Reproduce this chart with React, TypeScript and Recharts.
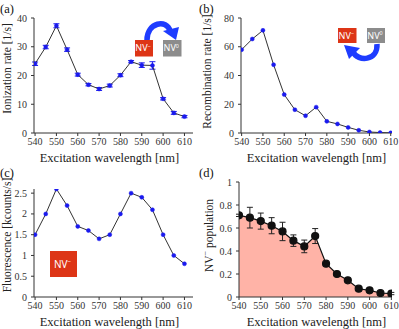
import React from 'react';
import { ComposedChart, Line, Area, XAxis, YAxis, ErrorBar } from 'recharts';

// excitation wavelengths shared by all four panels [nm]
const wavelengths = [540, 545, 550, 555, 560, 565, 570, 575, 580, 585, 590, 595, 600, 605, 610];

// (a) ionization rate [1/s]
const ionizationRate = [24.1, 29.9, 37.3, 29.0, 20.3, 16.8, 15.3, 16.5, 20.1, 24.8, 23.6, 23.5, 11.9, 7.0, 5.7];
const ionizationError = [0.6, 0.6, 0.7, 0.6, 0.5, 0.4, 0.5, 0.5, 0.5, 0.4, 0.8, 1.3, 0.4, 0.5, 0.4];

// (b) recombination rate [1/s]
const recombinationRate = [58, 65.4, 71.4, 47.5, 26.7, 16.2, 12, 18, 8.1, 6.3, 3.9, 1.9, 0.7, 0.3, 0.1];

// (c) fluorescence [kcounts/s]
const fluorescence = [1.5, 2.0, 2.6, 2.2, 1.7, 1.6, 1.4, 1.5, 2.0, 2.5, 2.4, 2.1, 1.5, 1.0, 0.8];

// (d) NV- population
const nvPopulation = [0.71, 0.69, 0.66, 0.62, 0.57, 0.49, 0.44, 0.53, 0.29, 0.2, 0.145, 0.072, 0.058, 0.035, 0.03];
const nvPopulationError = [0.01, 0.09, 0.07, 0.07, 0.08, 0.05, 0.055, 0.065, 0.01, 0.01, 0.01, 0.01, 0.01, 0.01, 0.01];

const xTicks = [540, 550, 560, 570, 580, 590, 600, 610];
const ionizationTicks = [0, 10, 20, 30, 40];
const recombinationTicks = [0, 20, 40, 60, 80];
const fluorescenceTicks = [0, 0.5, 1, 1.5, 2, 2.5];
const populationTicks = [0, 0.2, 0.4, 0.6, 0.8, 1];

const SERIF = 'Liberation Serif';
const SANS = 'Noto Sans';
const AXIS = '#333';
const BLUE = '#1a1aee';

const rows = wavelengths.map((w, i) => ({
  w,
  ion: ionizationRate[i],
  ionErr: ionizationError[i],
  rec: recombinationRate[i],
  fl: fluorescence[i],
  pop: nvPopulation[i],
  popErr: nvPopulationError[i],
}));

const yTitle = (text: React.ReactNode, x: number, dy: number) => (props: any) => {
  const vb = props.viewBox || {};
  const cy = (vb.y || 0) + (vb.height || 0) / 2 + dy;
  return (
    <text
      x={x}
      y={cy}
      transform={`rotate(-90, ${x}, ${cy})`}
      textAnchor="middle"
      dominantBaseline="central"
      style={{ fontFamily: SERIF, fontSize: 11.5 }}
      fill="#222"
    >
      {text}
    </text>
  );
};

const xTitle = (dx: number) => (props: any) => {
  const vb = props.viewBox || {};
  const cx = (vb.x || 0) + (vb.width || 0) / 2 + dx;
  return (
    <text x={cx} y={(vb.y || 0) + 29} textAnchor="middle" style={{ fontFamily: SERIF, fontSize: 12.5 }} fill="#222">
      Excitation wavelength [nm]
    </text>
  );
};

interface PanelProps {
  left: number;
  top: number;
  width: number;
  height: number;
  marginTop: number;
  yWidth: number;
  xDomain: [number, number];
  yDomain: [number, number];
  yTicks: number[];
  title: React.ReactNode;
  titleX: number;
  titleDy: number;
  xTitleDx: number;
  children: React.ReactNode;
}

function Panel(p: PanelProps) {
  const tick = { fontFamily: SERIF, fontSize: 10, fill: '#333' };
  return (
    <div style={{ position: 'absolute', left: p.left, top: p.top }}>
      <ComposedChart
        width={p.width}
        height={p.height}
        data={rows}
        margin={{ top: p.marginTop, right: 7, left: 0, bottom: 0 }}
        style={{ fontFamily: SERIF }}
      >
        <XAxis
          dataKey="w"
          type="number"
          domain={p.xDomain}
          ticks={xTicks}
          allowDataOverflow
          height={32}
          stroke={AXIS}
          tickSize={3}
          tickMargin={2}
          tick={tick}
          label={{ content: xTitle(p.xTitleDx) }}
        />
        <XAxis xAxisId="top" orientation="top" type="number" domain={p.xDomain} height={0} tick={false} tickLine={false} stroke={AXIS} />
        <YAxis
          type="number"
          domain={p.yDomain}
          ticks={p.yTicks}
          allowDataOverflow
          width={p.yWidth}
          stroke={AXIS}
          tickSize={3}
          tickMargin={4}
          tick={tick}
          label={{ content: yTitle(p.title, p.titleX, p.titleDy) }}
        />
        <YAxis yAxisId="right" orientation="right" type="number" domain={p.yDomain} width={0} tick={false} tickLine={false} stroke={AXIS} />
        {p.children}
      </ComposedChart>
    </div>
  );
}

const blueDot = { r: 2, fill: BLUE, stroke: BLUE, strokeWidth: 0.5 };

function Annotations() {
  const box = (x: number, y: number, w: number, h: number, fill: string, sup: string, fs: number) => (
    <g>
      <rect x={x} y={y} width={w} height={h} fill={fill} />
      <text x={x + w / 2 - 1} y={y + h / 2 + fs * 0.36} textAnchor="middle" style={{ fontFamily: SANS, fontSize: fs }} fill="#fff">
        NV
        <tspan dy={-fs * 0.4} fontSize={fs * 0.6}>{sup}</tspan>
      </text>
    </g>
  );
  const label = (x: number, y: number, t: string) => (
    <text x={x} y={y} style={{ fontFamily: SERIF, fontSize: 12.5 }} fill="#111">{t}</text>
  );
  return (
    <svg width={399} height={329} style={{ position: 'absolute', left: 0, top: 0, pointerEvents: 'none' }}>
      {label(0, 13, '(a)')}
      {label(199, 13, '(b)')}
      {label(0, 177, '(c)')}
      {label(199, 177, '(d)')}
      {/* (a) ionization NV- -> NV0 */}
      <path d="M147,40 C147,22 167,19 170,31" fill="none" stroke="#1e3cff" strokeWidth={5.5} />
      <polygon points="163,31 179,27 176,40" fill="#1e3cff" />
      {box(135, 40, 18, 16.5, '#dd3516', '−', 9)}
      {box(163, 40, 18.5, 16.5, '#8c8c8c', '0', 9)}
      {/* (b) recombination NV0 -> NV- */}
      <path d="M377,44 C378,61 358,62 353,52" fill="none" stroke="#1e3cff" strokeWidth={5.5} />
      <polygon points="344,45 360,48 349,59" fill="#1e3cff" />
      {box(338, 28, 18.5, 15, '#dd3516', '−', 9)}
      {box(367, 28, 18, 15, '#8c8c8c', '0', 9)}
      {/* (c) */}
      {box(50, 251, 27, 26, '#dd3516', '−', 10)}
    </svg>
  );
}

export default function App() {
  return (
    <div style={{ position: 'absolute', left: 0, top: 0, width: 399, height: 329, background: '#fff', fontFamily: SERIF }}>
      <Panel
        left={0} top={0} width={200} height={165} marginTop={18} yWidth={34}
        xDomain={[539.5, 614]} yDomain={[0, 40]} yTicks={ionizationTicks}
        title="Ionization rate [1/s]" titleX={7} titleDy={-7} xTitleDx={-4}
      >
        <Line dataKey="ion" type="linear" stroke="#333" strokeWidth={1} dot={blueDot} isAnimationActive={false}>
          <ErrorBar dataKey="ionErr" width={3} stroke={BLUE} strokeWidth={1} direction="y" />
        </Line>
      </Panel>
      <Panel
        left={200} top={0} width={199} height={165} marginTop={18} yWidth={41}
        xDomain={[539.7, 610.6]} yDomain={[0, 80]} yTicks={recombinationTicks}
        title="Recombination rate [1/s]" titleX={7} titleDy={-4} xTitleDx={0}
      >
        <Line dataKey="rec" type="linear" stroke="#333" strokeWidth={1} dot={blueDot} isAnimationActive={false} />
      </Panel>
      <Panel
        left={0} top={165} width={200} height={164} marginTop={24} yWidth={34}
        xDomain={[539.5, 614]} yDomain={[0, 2.6]} yTicks={fluorescenceTicks}
        title="Fluorescence [kcounts/s]" titleX={7} titleDy={-8} xTitleDx={-4}
      >
        <Line dataKey="fl" type="linear" stroke="#333" strokeWidth={1} dot={blueDot} isAnimationActive={false} />
      </Panel>
      <Panel
        left={200} top={165} width={199} height={164} marginTop={17} yWidth={39}
        xDomain={[540, 610.3]} yDomain={[0, 1]} yTicks={populationTicks}
        title={<>NV<tspan dy={-3.5} fontSize={8}>−</tspan><tspan dy={3.5}> population</tspan></>}
        titleX={8.5} titleDy={-4} xTitleDx={1}
      >
        <Area dataKey="pop" type="linear" fill="#ffb3a7" fillOpacity={1} stroke="none" isAnimationActive={false} />
        <Line dataKey="pop" type="linear" stroke="#111" strokeWidth={1.2} dot={{ r: 3.5, fill: '#111', stroke: '#111' }} isAnimationActive={false}>
          <ErrorBar dataKey="popErr" width={3} stroke="#222" strokeWidth={1} direction="y" />
        </Line>
      </Panel>
      <Annotations />
    </div>
  );
}
